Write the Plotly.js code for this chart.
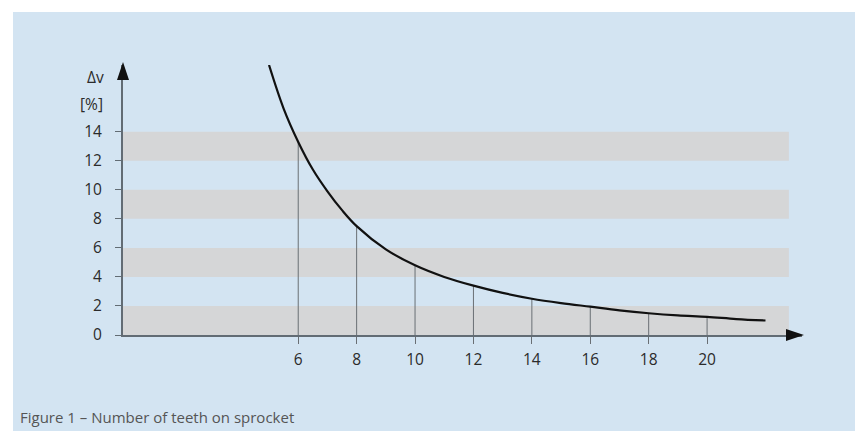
<!DOCTYPE html>
<html>
<head>
<meta charset="utf-8">
<script src="https://cdn.plot.ly/plotly-3.0.1.min.js"></script>
<style>
html,body{margin:0;padding:0;background:#ffffff;}
#chart{position:absolute;left:13px;top:12px;width:842px;height:419px;}
</style>
</head>
<body>
<div id="chart"></div>
<script>
// Curve: number of teeth vs speed variation
var teeth = [5, 5.5, 6, 6.5, 7, 7.5, 8, 9, 10, 11, 12, 13, 14, 15, 16, 17, 18, 19, 20, 21, 22];
var deltaV = [18.6, 15.6, 13.3, 11.4, 9.9, 8.6, 7.5, 5.9, 4.8, 4.0, 3.4, 2.9, 2.5, 2.2, 1.95, 1.7, 1.5, 1.35, 1.25, 1.1, 1.0];
// Drop lines at these tooth counts
var dropTeeth = [6, 8, 10, 12, 14, 16, 18, 20];
var dropValues = [13.3, 7.5, 4.8, 3.4, 2.5, 1.95, 1.5, 1.25];
// Grey bands [from, to]
var bandLows = [0, 4, 8, 12];
var bandHighs = [2, 6, 10, 14];
var bandEnd = 22.8;
var yTicks = [0, 2, 4, 6, 8, 10, 12, 14];
var xTicks = [6, 8, 10, 12, 14, 16, 18, 20];
var xMax = 23.25, yMax = 18.6;

var dropX = [], dropY = [];
for (var i = 0; i < dropTeeth.length; i++) {
  dropX.push(dropTeeth[i], dropTeeth[i], null);
  dropY.push(0, dropValues[i], null);
}

var shapes = [];
for (var j = 0; j < bandLows.length; j++) {
  shapes.push({type:'rect', xref:'x', yref:'y', x0:0, x1:bandEnd, y0:bandLows[j], y1:bandHighs[j],
    fillcolor:'#d5d6d7', line:{width:0}, layer:'below'});
}
// arrow heads at the axis ends (paper-referenced so they are not clipped)
shapes.push({type:'path', xref:'paper', yref:'paper', xsizemode:'pixel', ysizemode:'pixel', xanchor:1, yanchor:0,
  path:'M -16 -6 L 2 0 L -16 6 Z', fillcolor:'#111111', line:{width:0}, layer:'above'});
shapes.push({type:'path', xref:'paper', yref:'paper', xsizemode:'pixel', ysizemode:'pixel', xanchor:0, yanchor:1,
  path:'M -6 -15 L 0 3 L 6 -15 Z', fillcolor:'#111111', line:{width:0}, layer:'above'});

var traces = [
  {x: dropX, y: dropY, mode:'lines', line:{color:'#6a6f74', width:1}, hoverinfo:'skip', showlegend:false},
  {x: teeth, y: deltaV, mode:'lines', line:{color:'#111111', width:2.2, shape:'spline'}, showlegend:false}
];

var tickFont = {family:'Open Sans, sans-serif', size:15.5, color:'#2b2b2b'};
var layout = {
  width: 842, height: 419,
  margin: {l:110, r:53, t:53, b:96},
  paper_bgcolor: '#d3e4f2',
  plot_bgcolor: 'rgba(0,0,0,0)',
  showlegend: false,
  xaxis: {range:[0, xMax], tickvals:xTicks, ticktext:xTicks.map(String), showgrid:false, zeroline:false,
    showline:true, linecolor:'#626c74', linewidth:2, ticks:'outside', ticklen:7, tickcolor:'#6a6f74', tickwidth:1,
    tickfont:tickFont, ticklabelstandoff:2, fixedrange:true},
  yaxis: {range:[0, yMax], tickvals:yTicks, ticktext:yTicks.map(String), showgrid:false, zeroline:false,
    showline:true, linecolor:'#626c74', linewidth:2, ticks:'outside', ticklen:6, tickcolor:'#626c74', tickwidth:1,
    tickfont:tickFont, ticklabelstandoff:10, fixedrange:true},
  shapes: shapes,
  annotations: [
    {xref:'paper', yref:'y', x:0, y:17.8, xanchor:'right', xshift:-17, text:'Δv', showarrow:false, font:tickFont},
    {xref:'paper', yref:'y', x:0, y:15.9, xanchor:'right', xshift:-18, text:'[%]', showarrow:false, font:tickFont},
    {xref:'paper', yref:'paper', x:-0.155, y:-0.348, xanchor:'left', yanchor:'bottom', text:'Figure 1 – Number of teeth on sprocket',
      showarrow:false, font:{family:'Open Sans, sans-serif', size:15, color:'#555555'}}
  ]
};
Plotly.newPlot('chart', traces, layout, {displayModeBar:false, staticPlot:true});
</script>
</body>
</html>
